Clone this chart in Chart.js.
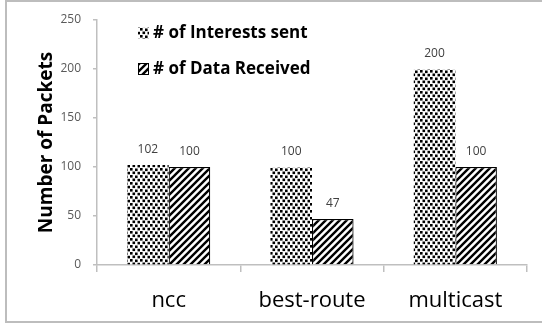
<!DOCTYPE html>
<html>
<head>
<meta charset="utf-8">
<script src="https://cdn.jsdelivr.net/npm/chart.js@4.4.1/dist/chart.umd.min.js"></script>
<style>
  html, body { margin: 0; padding: 0; background: #ffffff; }
  #wrap { position: relative; width: 542px; height: 327px; }
</style>
</head>
<body>
<div id="wrap"><canvas id="chart" width="542" height="327"></canvas></div>
<script>
// Packet counts per forwarding strategy
const strategies = ['ncc', 'best-route', 'multicast'];
const interestsSent = [102, 100, 200];
const dataReceived = [100, 47, 100];
const seriesLabels = ['# of Interests sent', '# of Data Received'];
const yTicks = [0, 50, 100, 150, 200, 250];

const FONT = '"Open Sans", "Liberation Sans", sans-serif';

// Fill patterns: stippled dots and diagonal hatching
function dotPattern() {
  const c = document.createElement('canvas');
  c.width = 10; c.height = 7;
  const g = c.getContext('2d');
  g.fillStyle = '#ffffff'; g.fillRect(0, 0, 10, 7);
  g.fillStyle = '#000000';
  const s = 2.6;
  g.fillRect(0, 0, s, s);
  g.fillRect(5, 0.5, s, s);
  g.fillRect(2.5, 3.5, s, s);
  g.fillRect(7.5, 3.8, s, s);
  return g.createPattern(c, 'repeat');
}
function hatchPattern() {
  const p = 7;
  const c = document.createElement('canvas');
  c.width = p; c.height = p;
  const g = c.getContext('2d');
  g.fillStyle = '#ffffff'; g.fillRect(0, 0, p, p);
  g.strokeStyle = '#000000'; g.lineWidth = 2.4;
  g.beginPath();
  g.moveTo(-1, 1); g.lineTo(1, -1);
  g.moveTo(0, p); g.lineTo(p, 0);
  g.moveTo(p - 1, p + 1); g.lineTo(p + 1, p - 1);
  g.stroke();
  return g.createPattern(c, 'repeat');
}
const dots = dotPattern();
const hatch = hatchPattern();

// Outer frame
const framePlugin = {
  id: 'frame',
  beforeDraw(chart) {
    const ctx = chart.ctx;
    ctx.save();
    ctx.fillStyle = '#ffffff';
    ctx.fillRect(0, 0, chart.width, chart.height);
    ctx.strokeStyle = '#bdbdbd';
    ctx.lineWidth = 2;
    ctx.strokeRect(6, 1, chart.width + 10, chart.height - 6);
    ctx.restore();
  }
};

// Value labels above each bar
const valueLabels = {
  id: 'valueLabels',
  afterDatasetsDraw(chart) {
    const ctx = chart.ctx;
    ctx.save();
    ctx.fillStyle = '#404040';
    ctx.font = '12px ' + FONT;
    ctx.textAlign = 'center';
    ctx.textBaseline = 'middle';
    chart.data.datasets.forEach((ds, i) => {
      chart.getDatasetMeta(i).data.forEach((bar, j) => {
        ctx.fillText(String(ds.data[j]), bar.x, bar.y - 15);
      });
    });
    ctx.restore();
  }
};

// Legend drawn inside the plot area
const insideLegend = {
  id: 'insideLegend',
  afterDraw(chart) {
    const ctx = chart.ctx;
    ctx.save();
    const rows = [{ y: 33, fill: dots, border: false }, { y: 69, fill: hatch, border: true }];
    chart.data.datasets.forEach((ds, i) => {
      const r = rows[i];
      ctx.fillStyle = r.fill;
      ctx.fillRect(138, r.y - 6, 11, 12);
      if (r.border) {
        ctx.strokeStyle = '#000000';
        ctx.lineWidth = 1;
        ctx.strokeRect(138.5, r.y - 5.5, 10, 11);
      }
      ctx.fillStyle = '#000000';
      ctx.font = 'bold 17px ' + FONT;
      ctx.textAlign = 'left';
      ctx.textBaseline = 'middle';
      ctx.fillText(ds.label, 153, r.y);
    });
    ctx.restore();
  }
};

new Chart(document.getElementById('chart'), {
  type: 'bar',
  data: {
    labels: strategies,
    datasets: [
      { label: seriesLabels[0], data: interestsSent, backgroundColor: dots, borderWidth: 0 },
      { label: seriesLabels[1], data: dataReceived, backgroundColor: hatch, borderColor: '#000000', borderWidth: 1.2 }
    ]
  },
  options: {
    responsive: false,
    animation: false,
    events: [],
    layout: { padding: { left: 0, right: 15, top: 20, bottom: 0 } },
    datasets: { bar: { categoryPercentage: 0.58, barPercentage: 1.0 } },
    plugins: { legend: { display: false }, tooltip: { enabled: false } },
    scales: {
      x: {
        grid: { display: true, offset: true, drawOnChartArea: false, drawTicks: true, tickLength: 7, color: '#bfbfbf', lineWidth: 1.5 },
        border: { display: true, color: '#bfbfbf', width: 1.5 },
        ticks: { color: '#000000', font: { family: FONT, size: 22 }, padding: 16 },
        afterFit(s) { s.height = 62; }
      },
      y: {
        min: 0, max: 250,
        afterBuildTicks(s) { s.ticks = yTicks.map(v => ({ value: v })); },
        grid: { display: true, drawOnChartArea: false, drawTicks: true, tickLength: 4, color: '#bfbfbf', lineWidth: 1.5 },
        border: { display: true, color: '#bfbfbf', width: 1.5 },
        ticks: { color: '#595959', font: { family: FONT, size: 12 }, padding: 12 },
        title: { display: true, text: 'Number of Packets', color: '#000000', font: { family: FONT, size: 19, weight: 'bold' }, padding: { top: 35, bottom: 0 } },
        afterFit(s) { s.width = 97; }
      }
    }
  },
  plugins: [framePlugin, valueLabels, insideLegend]
});
</script>
</body>
</html>
